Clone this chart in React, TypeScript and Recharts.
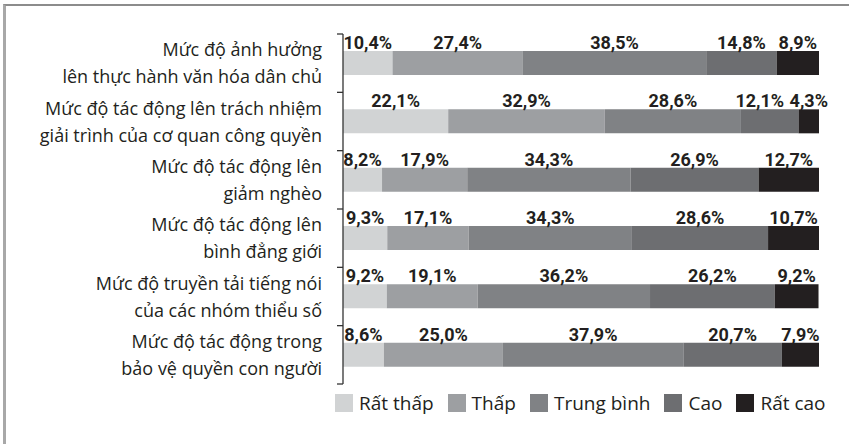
import React from 'react';
import { BarChart, Bar, XAxis, YAxis, LabelList, Legend } from 'recharts';

const categories = [
  'Mức độ ảnh hưởng\nlên thực hành văn hóa dân chủ',
  'Mức độ tác động lên trách nhiệm\ngiải trình của cơ quan công quyền',
  'Mức độ tác động lên\ngiảm nghèo',
  'Mức độ tác động lên\nbình đẳng giới',
  'Mức độ truyền tải tiếng nói\ncủa các nhóm thiểu số',
  'Mức độ tác động trong\nbảo vệ quyền con người',
];

const ratThap = [10.4, 22.1, 8.2, 9.3, 9.2, 8.6];
const thap = [27.4, 32.9, 17.9, 17.1, 19.1, 25.0];
const trungBinh = [38.5, 28.6, 34.3, 34.3, 36.2, 37.9];
const cao = [14.8, 12.1, 26.9, 28.6, 26.2, 20.7];
const ratCao = [8.9, 4.3, 12.7, 10.7, 9.2, 7.9];

const seriesKeys = ['ratThap', 'thap', 'trungBinh', 'cao', 'ratCao'];
const seriesNames = ['Rất thấp', 'Thấp', 'Trung bình', 'Cao', 'Rất cao'];
const seriesValues = [ratThap, thap, trungBinh, cao, ratCao];
const seriesColors = ['#d1d3d4', '#9d9fa2', '#808285', '#6d6e71', '#231f20'];

const data = categories.map((name, i) => {
  const row: any = { name };
  seriesKeys.forEach((k, s) => {
    row[k] = seriesValues[s][i];
  });
  return row;
});

const LABEL_FONT = 'Open Sans, Noto Sans, sans-serif';
const NUM_FONT = 'Roboto, Liberation Sans, sans-serif';
const TICK_SIZE = 6;
const TICK_MARGIN = 15;

const fmt = (v: number) => v.toFixed(1).replace('.', ',') + '%';

const CategoryTick = (props: any) => {
  const { x, y, payload, index, visibleTicksCount } = props;
  const lines = String(payload.value).split('\n');
  const count = visibleTicksCount ?? categories.length;
  const half = Number(payload.offset) || 0;
  const axisX = Number(x) + TICK_MARGIN + TICK_SIZE;
  const isLast = index === count - 1;
  return (
    <g>
      <text x={x} y={y} textAnchor="end" fontFamily={LABEL_FONT} fontSize={18} fill="#231f20">
        <tspan x={x} dy={-7}>{lines[0]}</tspan>
        <tspan x={x} dy={27}>{lines[1]}</tspan>
      </text>
      <path d={`M${axisX - TICK_SIZE},${y - half}H${axisX}`} stroke="#333" strokeWidth={1.3} fill="none" />
      {isLast && (
        <path d={`M${axisX - TICK_SIZE},${y + half}H${axisX}`} stroke="#333" strokeWidth={1.3} fill="none" />
      )}
    </g>
  );
};

const makeLabel = (s: number) => (props: any) => {
  const vb = props.viewBox && props.viewBox.width !== undefined ? props.viewBox : props;
  const x = Number(vb.x);
  const y = Number(vb.y);
  const width = Number(vb.width);
  const value = Number(props.value);
  const index = props.index;
  let cx = x + width / 2;
  if (s < seriesValues.length - 1 && index !== undefined && value > 0) {
    const pxPerUnit = width / value;
    const nextW = seriesValues[s + 1][index] * pxPerUnit;
    const dist = width / 2 + nextW / 2;
    const minDist = 49;
    if (dist < minDist) cx -= minDist - dist;
  }
  return (
    <text x={cx} y={y - 2} textAnchor="middle" fontFamily={NUM_FONT} fontWeight={700} fontSize={18} fill="#231f20">
      {fmt(value)}
    </text>
  );
};

const LegendContent = () => (
  <div style={{ display: 'flex', alignItems: 'center', whiteSpace: 'nowrap' }}>
    {seriesNames.map((n, i) => (
      <div key={n} style={{ display: 'flex', alignItems: 'center', marginRight: 14 }}>
        <span style={{ display: 'inline-block', width: 18, height: 18, background: seriesColors[i], marginRight: 6 }} />
        <span style={{ fontFamily: LABEL_FONT, fontSize: 19, color: '#231f20', lineHeight: '18px' }}>{n}</span>
      </div>
    ))}
  </div>
);

export default function App() {
  return (
    <div style={{ position: 'absolute', left: 0, top: 0, width: 849, height: 444, background: '#fff', overflow: 'hidden' }}>
      <div
        style={{
          position: 'absolute',
          left: 3,
          top: 4,
          right: -10,
          bottom: -10,
          borderTop: '2px solid #8c8c8c',
          borderLeft: '3px solid #a8a8a8',
        }}
      />
      <div style={{ position: 'absolute', left: 0, top: 0 }}>
        <BarChart
          width={849}
          height={444}
          data={data}
          layout="vertical"
          margin={{ top: 34, right: 30, bottom: 60, left: 0 }}
          barSize={24}
        >
          <XAxis type="number" domain={[0, 100]} hide allowDataOverflow />
          <YAxis
            type="category"
            dataKey="name"
            width={343}
            axisLine={{ stroke: '#333', strokeWidth: 1.3 }}
            tickLine={false}
            tickSize={TICK_SIZE}
            tickMargin={TICK_MARGIN}
            tick={<CategoryTick />}
            interval={0}
          />
          <Legend
            layout="horizontal"
            verticalAlign="middle"
            align="center"
            wrapperStyle={{ top: 394, left: 335, width: 'auto', height: 'auto' }}
            content={<LegendContent />}
          />
          {seriesKeys.map((k, s) => (
            <Bar key={k} dataKey={k} name={seriesNames[s]} stackId="a" fill={seriesColors[s]} isAnimationActive={false}>
              <LabelList dataKey={k} content={makeLabel(s)} />
            </Bar>
          ))}
        </BarChart>
      </div>
    </div>
  );
}
